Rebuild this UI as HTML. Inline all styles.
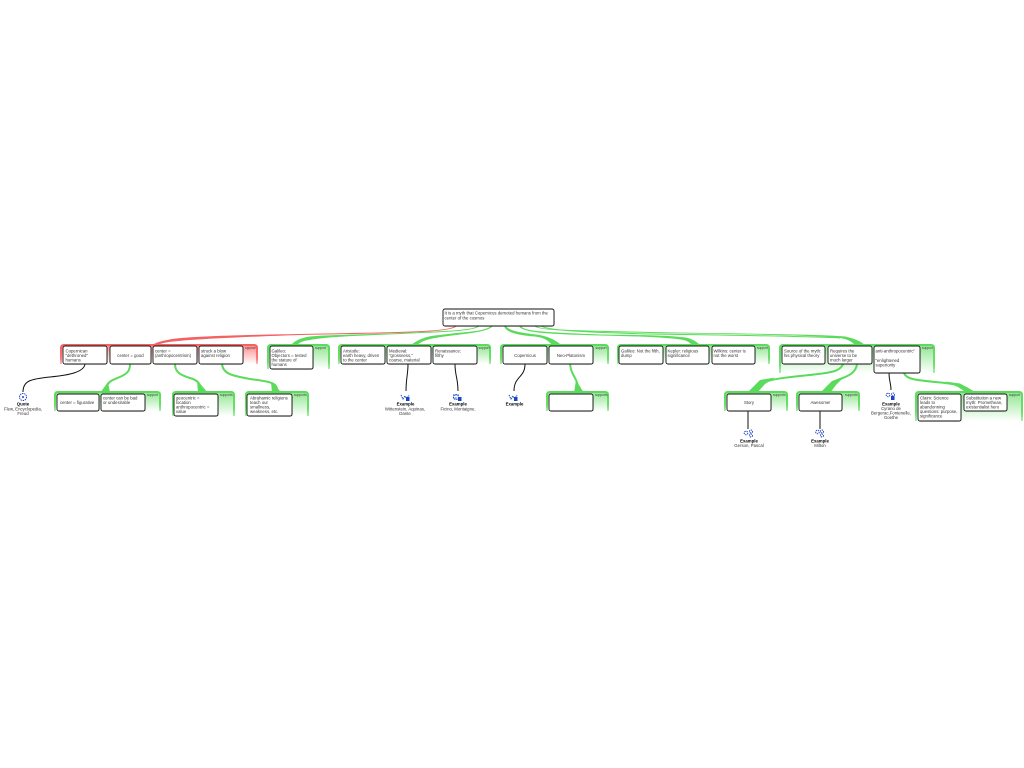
<!DOCTYPE html>
<html><head><meta charset="utf-8"><style>
html,body{margin:0;padding:0;background:#fff}
svg{display:block}
text{font-family:"Liberation Sans",sans-serif;font-size:4.3px;fill:#333}
.l{font-size:3.3px;fill:#444}
.b{font-weight:bold;fill:#000;text-anchor:middle}
.c{text-anchor:middle}
.n{fill:#fff;stroke:#111;stroke-width:.9}
.s{fill:#999;opacity:.6}
.gg{fill:url(#gf);stroke:url(#gs);stroke-width:2}
.rr{fill:url(#rf);stroke:url(#rs);stroke-width:2}
.f{fill:#5bdb5b}
.g{fill:none;stroke:#5bdb5b;stroke-width:1}
.t{fill:none;stroke:#5bdb5b;stroke-width:2}
.k{fill:none;stroke:#111;stroke-width:1}
.i{fill:none;stroke:#1a44c8;stroke-width:1;stroke-dasharray:1.4 .8}
</style></head><body>
<svg width="1024" height="768" viewBox="0 0 1024 768" xmlns="http://www.w3.org/2000/svg">
<defs>
<linearGradient id="gf" x1="0" y1="0" x2="0" y2="1"><stop offset="0" stop-color="#8fe68f"/><stop offset="1" stop-color="#fff"/></linearGradient>
<linearGradient id="rf" x1="0" y1="0" x2="0" y2="1"><stop offset="0" stop-color="#f88"/><stop offset="1" stop-color="#fff"/></linearGradient>
<linearGradient id="gs" x1="0" y1="0" x2="0" y2="1"><stop offset="0" stop-color="#5bdb5b"/><stop offset=".7" stop-color="#6adf6a"/><stop offset="1" stop-color="#aeedae"/></linearGradient>
<linearGradient id="rs" x1="0" y1="0" x2="0" y2="1"><stop offset="0" stop-color="#f56060"/><stop offset=".7" stop-color="#f77"/><stop offset="1" stop-color="#fbb"/></linearGradient>
</defs>

<!-- group backgrounds -->
<path class="rr" d="M61 364V348Q61 345 64 345H254Q257 345 257 348V364"/>
<path class="gg" d="M268 369V348Q268 345 271 345H326Q329 345 329 348V369"/>
<path class="gg" d="M339 364V348Q339 345 342 345H487Q490 345 490 348V364"/>
<path class="gg" d="M501 364V348Q501 345 504 345H605Q608 345 608 348V364"/>
<path class="gg" d="M618 364V348Q618 345 621 345H766Q769 345 769 348V364"/>
<path class="gg" d="M780 373V348Q780 345 783 345H931Q934 345 934 348V373"/>
<path class="gg" d="M55 411V395Q55 392 58 392H157Q160 392 160 395V411"/>
<path class="gg" d="M173 416V395Q173 392 176 392H231Q234 392 234 395V416"/>
<path class="gg" d="M246 416V395Q246 392 249 392H305Q308 392 308 395V416"/>
<path class="gg" d="M547 411V395Q547 392 550 392H605Q608 392 608 395V411"/>
<path class="gg" d="M725 411V395Q725 392 728 392H784Q787 392 787 395V411"/>
<path class="gg" d="M797 411V395Q797 392 800 392H856Q859 392 859 395V411"/>
<path class="gg" d="M916 421V395Q916 392 919 392H1019Q1022 392 1022 395V421"/>

<!-- connectors: root to groups -->
<path fill="#f56060" d="M455 326C448 332 400 332 300 334C240 335 195 336 172 339C162 341 156 342 151 346L156 346C160 343 168 342 178 341C200 339 240 337 300 335C400 333 450 333 457 326Z"/>
<path class="f" d="M478 326C470 331 440 331 400 333C350 335 320 335 307 337C298 339 295 341 291 345L297 345C300 342 303 341 310 340C325 337 350 336 400 334C440 332 472 332 480 326Z"/>
<path class="f" d="M491 326C485 332 460 332 440 335C425 336 418 340 411 345L417 345C422 341 428 339 441 337C460 334 487 333 493 326Z"/>
<path class="f" d="M504 326C506 333 520 335.500 535 336.500C543 337.500 548 340 552 345L561 345C556 340 548 336 536 334.500C522 333 509 331 506 326Z"/>
<path class="f" d="M519 326C522 332 540 334 600 335.500C650 336.500 672 338 683 340C688 341 690 343 692 345L700 345C695 340 689 338 685 337.500C670 335.500 650 335 600 334.500C540 332 524 331 521 326Z"/>
<path class="f" d="M534 326C540 331 570 331 650 333C720 334 815 335 840 338C848 339 852 342 855 345L865 345C859 340 852 338 845 336.500C820 334 720 333.500 650 332C570 330 541 330 536 326Z"/>
<path class="g" d="M541 326C548 330 575 332 650 334C720 335 800 336 840 338"/>

<!-- connectors: second level -->
<path class="t" d="M130 364C130 370 128 373 122 376C116 379 110 380 108 384C106 387 105 389 104 392"/>
<path class="f" d="M108 382L100 393L110 393Z"/>
<path class="t" d="M175 364C175 372 180 375 190 378C198 380 200 384 203 392"/>
<path class="f" d="M197 380L198 393L208 393Z"/>
<path class="t" d="M222 364C223 375 235 376 250 379C265 381 272 382 275 385C277 387 277 389 278 392"/>
<path class="f" d="M271 382L272 393L282 393Z"/>
<path class="t" d="M570 364C571 372 573 374 575 378C578 383 578 387 579 392"/>
<path class="f" d="M576 380L574 393L584 393Z"/>
<path class="t" d="M843 364C840 372 830 373 800 376C770 379 760 381 752 392"/>
<path class="f" d="M775 377.500L760 380L747 393L757 393L765 384Z"/>
<path class="t" d="M857 364C856 372 850 375 843 378C833 382 828 384 825 392"/>
<path class="f" d="M845 376L832 381L820 393L830 393L836 385Z"/>
<path class="t" d="M904 373C906 379 915 380 935 382C958 384 966 386 972 392"/>
<path class="f" d="M945 381.500L960 383.500L977 393L967 393L958 387Z"/>

<!-- black connectors -->
<path class="k" d="M85 364C84 372 70 375 50 377C30 379 23 381 23 392"/>
<path class="k" d="M408 364C408 375 406 378 406 391"/>
<path class="k" d="M455 364C455 376 458 378 458 391"/>
<path class="k" d="M525 364C525 378 514 376 514 391"/>
<path class="k" d="M748 411V429"/>
<path class="k" d="M820 411V429"/>
<path class="k" d="M889 373C889 381 891 383 891 390"/>

<!-- group labels -->
<text class="l" x="245" y="349">oppose</text>
<text class="l" x="315" y="349">support</text>
<text class="l" x="478.500" y="349">support</text>
<text class="l" x="595.500" y="349">support</text>
<text class="l" x="757" y="349">support</text>
<text class="l" x="922" y="349">support</text>
<text class="l" x="147" y="396">support</text>
<text class="l" x="220" y="396">supports</text>
<text class="l" x="294" y="396">supports</text>
<text class="l" x="595" y="396">supports</text>
<text class="l" x="773" y="396">supports</text>
<text class="l" x="845" y="396">supports</text>
<text class="l" x="1009" y="396">support</text>

<!-- root -->
<rect class="s" x="443.600" y="309.600" width="111" height="17" rx="2"/>
<rect class="n" x="443" y="309" width="111" height="17" rx="2"/>
<text x="444.500" y="314.500">It is a myth that Copernicus demoted humans from the</text>
<text x="444.500" y="319.500">center of the cosmos</text>

<!-- row 1 nodes -->
<rect class="s" x="63.600" y="346.600" width="44" height="18" rx="2"/><rect class="n" x="63" y="346" width="44" height="18" rx="2"/>
<rect class="s" x="110.600" y="346.600" width="41" height="18" rx="2"/><rect class="n" x="110" y="346" width="41" height="18" rx="2"/>
<rect class="s" x="153.600" y="346.600" width="44" height="18" rx="2"/><rect class="n" x="153" y="346" width="44" height="18" rx="2"/>
<rect class="s" x="199.600" y="346.600" width="44" height="18" rx="2"/><rect class="n" x="199" y="346" width="44" height="18" rx="2"/>
<rect class="s" x="270.600" y="346.600" width="43" height="23" rx="2"/><rect class="n" x="270" y="346" width="43" height="23" rx="2"/>
<rect class="s" x="341.600" y="346.600" width="44" height="18" rx="2"/><rect class="n" x="341" y="346" width="44" height="18" rx="2"/>
<rect class="s" x="387.600" y="346.600" width="44" height="18" rx="2"/><rect class="n" x="387" y="346" width="44" height="18" rx="2"/>
<rect class="s" x="433.600" y="346.600" width="44" height="18" rx="2"/><rect class="n" x="433" y="346" width="44" height="18" rx="2"/>
<rect class="s" x="503.600" y="346.600" width="44" height="18" rx="2"/><rect class="n" x="503" y="346" width="44" height="18" rx="2"/>
<rect class="s" x="549.600" y="346.600" width="44" height="18" rx="2"/><rect class="n" x="549" y="346" width="44" height="18" rx="2"/>
<rect class="s" x="619.600" y="346.600" width="44" height="18" rx="2"/><rect class="n" x="619" y="346" width="44" height="18" rx="2"/>
<rect class="s" x="666.600" y="346.600" width="43" height="18" rx="2"/><rect class="n" x="666" y="346" width="43" height="18" rx="2"/>
<rect class="s" x="712.600" y="346.600" width="43" height="18" rx="2"/><rect class="n" x="712" y="346" width="43" height="18" rx="2"/>
<rect class="s" x="782.600" y="346.600" width="43" height="18" rx="2"/><rect class="n" x="782" y="346" width="43" height="18" rx="2"/>
<rect class="s" x="828.600" y="346.600" width="44" height="18" rx="2"/><rect class="n" x="828" y="346" width="44" height="18" rx="2"/>
<rect class="s" x="874.600" y="346.600" width="46" height="27" rx="2"/><rect class="n" x="874" y="346" width="46" height="27" rx="2"/>

<text x="65.500" y="352.500">Copernican</text><text x="65.500" y="357">"dethroned"</text><text x="65.500" y="361.500">humans</text>
<text class="c" x="130.500" y="357">center = good</text>
<text x="155" y="352.500">center =</text><text x="155" y="357">(anthropocentrism)</text>
<text x="201" y="352.500">struck a blow</text><text x="201" y="357">against religion</text>
<text x="271.500" y="352.500">Galileo:</text><text x="271.500" y="357">Objectors = tested</text><text x="271.500" y="361.500">the stature of</text><text x="271.500" y="366">humans</text>
<text x="343" y="352.500">Aristotle:</text><text x="343" y="357">earth heavy, driven</text><text x="343" y="361.500">to the center</text>
<text x="389" y="352.500">Medieval:</text><text x="389" y="357">"grossness,"</text><text x="389" y="361.500">coarse, material</text>
<text x="435" y="352.500">Renaissance:</text><text x="435" y="357">filthy</text>
<text class="c" x="525" y="357">Copernicus</text>
<text class="c" x="571" y="357">Neo-Platonism</text>
<text x="621" y="352.500">Galileo: Not the filth,</text><text x="621" y="357">dump</text>
<text x="667.500" y="352.500">Kepler: religious</text><text x="667.500" y="357">significance</text>
<text x="713.500" y="352.500">Wilkins: center is</text><text x="713.500" y="357">not the worst</text>
<text x="784" y="352.500">Source of the myth:</text><text x="784" y="357">his physical theory</text>
<text x="830" y="352.500">Requires the</text><text x="830" y="357">universe to be</text><text x="830" y="361.500">much larger</text>
<text x="875.500" y="352.500">anti-anthropocentric"</text><text x="875.500" y="362">"enlightened</text><text x="875.500" y="366.500">superiority</text>

<!-- row 2 nodes -->
<rect class="s" x="57.600" y="394.600" width="42" height="17" rx="2"/><rect class="n" x="57" y="394" width="42" height="17" rx="2"/>
<rect class="s" x="101.600" y="394.600" width="44" height="17" rx="2"/><rect class="n" x="101" y="394" width="44" height="17" rx="2"/>
<rect class="s" x="174.600" y="394.600" width="44" height="22" rx="2"/><rect class="n" x="174" y="394" width="44" height="22" rx="2"/>
<rect class="s" x="247.600" y="394.600" width="45" height="22" rx="2"/><rect class="n" x="247" y="394" width="45" height="22" rx="2"/>
<rect class="s" x="549.600" y="394.600" width="44" height="17" rx="2"/><rect class="n" x="549" y="394" width="44" height="17" rx="2"/>
<rect class="s" x="727.600" y="394.600" width="44" height="17" rx="2"/><rect class="n" x="727" y="394" width="44" height="17" rx="2"/>
<rect class="s" x="799.600" y="394.600" width="43" height="17" rx="2"/><rect class="n" x="799" y="394" width="43" height="17" rx="2"/>
<rect class="s" x="918.600" y="394.600" width="43" height="27" rx="2"/><rect class="n" x="918" y="394" width="43" height="27" rx="2"/>
<rect class="s" x="964.600" y="394.600" width="43" height="17" rx="2"/><rect class="n" x="964" y="394" width="43" height="17" rx="2"/>

<text x="60" y="404">center = figurative</text>
<text x="103" y="399.500">center can be bad</text><text x="103" y="404">or undesirable</text>
<text x="176" y="399.500">geocentric =</text><text x="176" y="404">location</text><text x="176" y="408.500">anthropocentric =</text><text x="176" y="413">value</text>
<text x="250" y="399.500">Abrahamic religions</text><text x="250" y="404">teach our</text><text x="250" y="408.500">smallness,</text><text x="250" y="413">weakness, etc.</text>
<text class="c" x="749" y="404">Story</text>
<text class="c" x="820.500" y="404">Awesome!</text>
<text x="920" y="399.500">Claim: Science</text><text x="920" y="404">leads to</text><text x="920" y="408.500">abandonning</text><text x="920" y="413">questions: purpose,</text><text x="920" y="417.500">significance</text>
<text x="966" y="399.500">Substitution a new</text><text x="966" y="404">myth: Promethean,</text><text x="966" y="408.500">existentialist hero</text>

<!-- icons -->
<circle class="i" cx="23" cy="397" r="3.500"/><circle cx="23" cy="397" r="1" fill="#1a44c8"/>
<path class="i" d="M401 395l2 4 2-3 2 3 2-4"/><rect x="406" y="397" width="3.500" height="4" fill="#1a44c8"/>
<path class="i" d="M453 395h6M453 398h4"/><circle class="i" cx="456" cy="397" r="2.500"/><rect x="458" y="397" width="3.500" height="4" fill="#1a44c8"/>
<path class="i" d="M509 395l2 4 2-3 2 3 2-4"/><rect x="514" y="397" width="3.500" height="4" fill="#1a44c8"/>
<circle class="i" cx="746" cy="433" r="1.800"/><circle class="i" cx="751" cy="431.500" r="1.500"/><circle class="i" cx="751" cy="435.500" r="1.500"/>
<circle class="i" cx="817.500" cy="432" r="1.800"/><circle class="i" cx="822" cy="431.500" r="1.500"/><circle class="i" cx="822" cy="435.500" r="1.500"/>
<circle class="i" cx="888" cy="395" r="1.800"/><circle class="i" cx="893" cy="394.500" r="1.500"/><rect x="891" y="396" width="3.500" height="4" fill="#1a44c8"/>

<!-- example labels -->
<text class="b" x="23" y="405.500">Quote</text><text class="c" x="23" y="410.500">Flew, Encyclopedia,</text><text class="c" x="23" y="415">Freud</text>
<text class="b" x="405.500" y="405.500">Example</text><text class="c" x="405" y="410.500">Wittenstein, Aquinas,</text><text class="c" x="405" y="415">Dante</text>
<text class="b" x="458" y="405.500">Example</text><text class="c" x="458" y="410.500">Ficino, Montaigne,</text>
<text class="b" x="514.500" y="405.500">Example</text>
<text class="b" x="749" y="442.500">Example</text><text class="c" x="749" y="447">Gerson, Pascal</text>
<text class="b" x="820" y="442.500">Example</text><text class="c" x="820" y="447">Milton</text>
<text class="b" x="891" y="405.500">Example</text><text class="c" x="891" y="410">Cyrano de</text><text class="c" x="891" y="414.500">Bergerac,Fontenelle,</text><text class="c" x="891" y="419">Goethe</text>
</svg>
</body></html>
